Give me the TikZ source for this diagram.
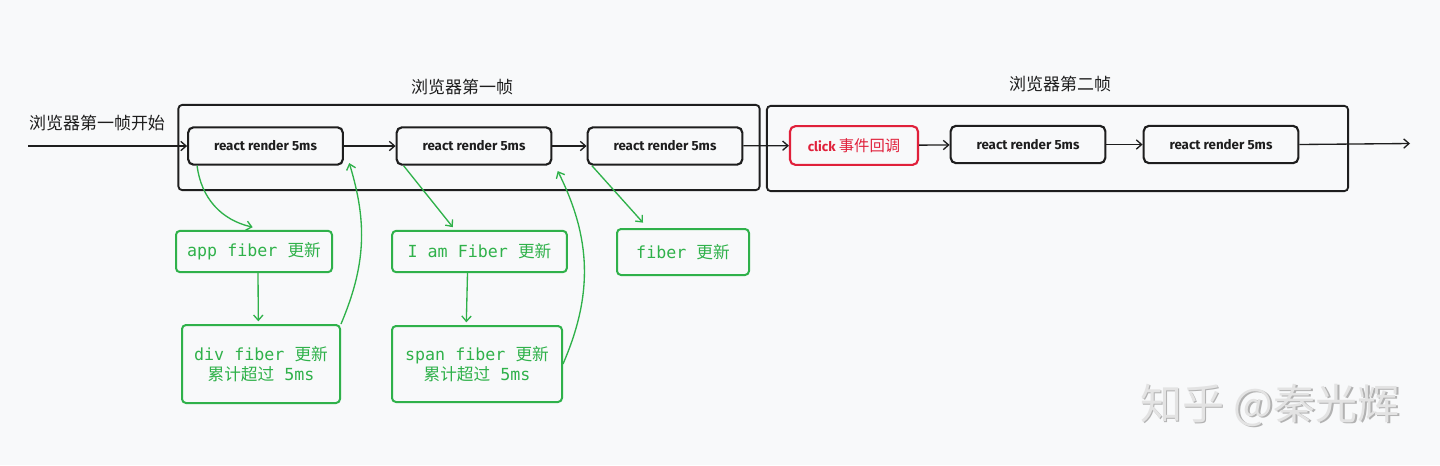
\documentclass[tikz,border=0pt]{standalone}
\usepackage{fontspec}
\setmainfont{Noto Sans CJK SC}
\newfontfamily\monofnt{DejaVu Sans Mono}
\newfontfamily\handfnt{Fira Sans}
\usetikzlibrary{arrows.meta,positioning,calc}
\definecolor{bgcol}{HTML}{F8F9FA}
\definecolor{inkcol}{HTML}{1E1E1E}
\definecolor{fibgreen}{HTML}{2FB14A}
\definecolor{clickred}{HTML}{E0203A}

\tikzset{
  framebox/.style={draw=inkcol, line width=1.4pt, rounded corners=3pt,
    minimum width=436pt, minimum height=64pt, inner sep=0pt},
  framelabel/.style={text=inkcol, font=\fontsize{12.75}{15}\selectfont},
  renderbox/.style={draw=inkcol, line width=1.6pt, rounded corners=4pt,
    minimum width=116pt, minimum height=28pt, inner sep=0pt, text=inkcol,
    font=\handfnt\bfseries\fontsize{10}{12}\selectfont},
  clickbox/.style={renderbox, draw=clickred, text=clickred,
    minimum width=96pt, minimum height=29pt},
  fiberbox/.style={draw=fibgreen, text=fibgreen, line width=1.5pt,
    rounded corners=3pt, inner sep=0pt, align=center,
    font=\fontsize{12.5}{15.5}\selectfont},
  flow/.style={draw=inkcol, line width=1pt, -{Straight Barb[length=4pt,width=7pt]}},
  fiberflow/.style={flow, draw=fibgreen},
}

\begin{document}
\begin{tikzpicture}[x=0.75pt,y=-0.75pt]
\fill[bgcol] (0,0) rectangle (1440,465);
\useasboundingbox (0,0) rectangle (1440,465);

% frames
\node[framebox] (frameA) at (469,147.5) {};
\node[framebox] (frameB) at (1057.5,148.5) {};
\node[framelabel] (labA) at (462,87) {浏览器第一帧};
\node[framelabel] (labB) at (1060,84) {浏览器第二帧};
\node[framelabel] (startlab) at (97,123) {浏览器第一帧开始};

% render steps
\node[renderbox] (r1) at (265.5,146) {react render 5ms};
\node[renderbox] (r2) at (474,146) {react render 5ms};
\node[renderbox] (r3) at (665,146) {react render 5ms};
\node[clickbox] (click) at (854,145.5) {click {\mdseries\rmfamily\fontsize{11.5}{14}\selectfont 事件回调}};
\node[renderbox] (r5) at (1028,144.5) {react render 5ms};
\node[renderbox] (r6) at (1221,144.5) {react render 5ms};

\coordinate (in) at (28,146);
\coordinate (out) at (1410,143.5);
\draw[flow] (in) -- (r1.west);
\draw[flow] (r1) -- (r2);
\draw[flow] (r2) -- (r3);
\draw[flow] (r3) -- (click);
\draw[flow] (click) -- (r5);
\draw[flow] (r5) -- (r6);
\draw[flow] (r6.east) -- (out);

% fiber work
\node[fiberbox, minimum width=117pt, minimum height=31pt] (g1) at (254,251.5) {{\monofnt app fiber }更新};
\node[fiberbox, minimum width=118.5pt, minimum height=58.5pt] (g2) at (261,364) {{\monofnt div fiber }更新\\累计超过{\monofnt{} 5ms}};
\node[fiberbox, minimum width=131pt, minimum height=31pt] (g3) at (479.5,251.5) {{\monofnt I am Fiber }更新};
\node[fiberbox, minimum width=127.5pt, minimum height=57pt] (g4) at (477,364) {{\monofnt span fiber }更新\\累计超过{\monofnt{} 5ms}};
\node[fiberbox, minimum width=99pt, minimum height=34.5pt] (g5) at (683,252) {{\monofnt fiber }更新};

\draw[fiberflow] ([xshift=7.5pt]r1.south west) to[bend right=35] ([xshift=-1pt,yshift=2pt]g1.north);
\draw[fiberflow] ([xshift=3pt]g1.south) -- ([xshift=-2pt,yshift=2pt]g2.north);
\draw[fiberflow] (g2.north east) to[bend right=20] ([xshift=4pt,yshift=2pt]r1.south east);
\draw[fiberflow] ([xshift=6pt]r2.south west) -- ([xshift=-20pt,yshift=2pt]g3.north);
\draw[fiberflow] ([xshift=-9pt]g3.south) -- ([xshift=-8pt,yshift=2pt]g4.north);
\draw[fiberflow] (g4.east) to[bend right=25] ([xshift=4pt,yshift=-4pt]r2.south east);
\draw[fiberflow] ([xshift=4pt]r3.south west) -- ([xshift=-30pt,yshift=4pt]g5.north);

% watermark
\node[text=gray!60, font=\fontsize{31.5}{36}\selectfont] (wmshadow) at (1271.5,406.5) {知乎 @秦光辉};
\node[text=gray!22, font=\fontsize{31.5}{36}\selectfont] (wm) at (1270,405) {知乎 @秦光辉};
\end{tikzpicture}
\end{document}
